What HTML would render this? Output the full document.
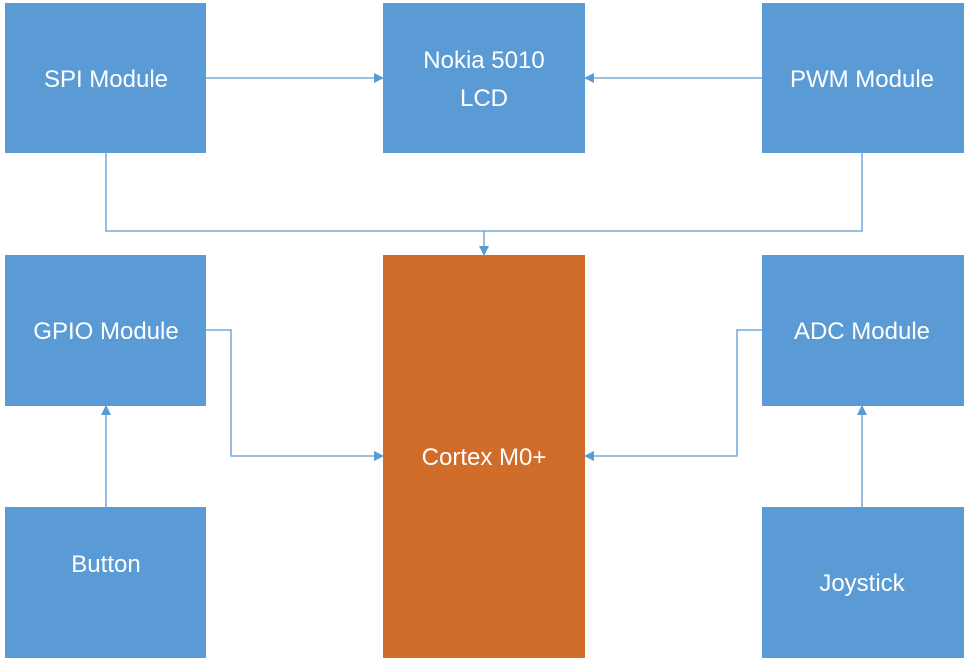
<!DOCTYPE html>
<html><head><style>body{margin:0;background:#fff}svg{display:block}</style></head><body>
<svg width="969" height="666" xmlns="http://www.w3.org/2000/svg" font-family="'Liberation Sans',sans-serif">
<defs><marker id="a" markerWidth="10" markerHeight="10" refX="9" refY="5" orient="auto" markerUnits="userSpaceOnUse"><path d="M0,0 L10,5 L0,10 Z" fill="#5B9BD5"/></marker></defs>
<g fill="#5B9BD5">
<rect x="5" y="3" width="201" height="150"/>
<rect x="383" y="3" width="202" height="150"/>
<rect x="762" y="3" width="202" height="150"/>
<rect x="5" y="255" width="201" height="151"/>
<rect x="762" y="255" width="202" height="151"/>
<rect x="5" y="507" width="201" height="151"/>
<rect x="762" y="507" width="202" height="151"/>
</g>
<rect x="383" y="255" width="202" height="403" fill="#D06D2B"/>
<g stroke="#5B9BD5" stroke-width="1.3" fill="none">
<path d="M206,78 H383" marker-end="url(#a)"/>
<path d="M762,78 H585" marker-end="url(#a)"/>
<path d="M106,153 V231 H862 V153"/>
<path d="M484,231 V255" marker-end="url(#a)"/>
<path d="M206,330 H231 V456 H383" marker-end="url(#a)"/>
<path d="M762,330 H737 V456 H585" marker-end="url(#a)"/>
<path d="M106,507 V406" marker-end="url(#a)"/>
<path d="M862,507 V406" marker-end="url(#a)"/>
</g>
<g fill="#fff" font-size="24" text-anchor="middle">
<text x="106" y="87">SPI Module</text>
<text x="484" y="68">Nokia 5010</text>
<text x="484" y="106">LCD</text>
<text x="862" y="87">PWM Module</text>
<text x="106" y="339">GPIO Module</text>
<text x="862" y="339">ADC Module</text>
<text x="484" y="465">Cortex M0+</text>
<text x="106" y="572">Button</text>
<text x="862" y="591">Joystick</text>
</g>
</svg>
</body></html>
